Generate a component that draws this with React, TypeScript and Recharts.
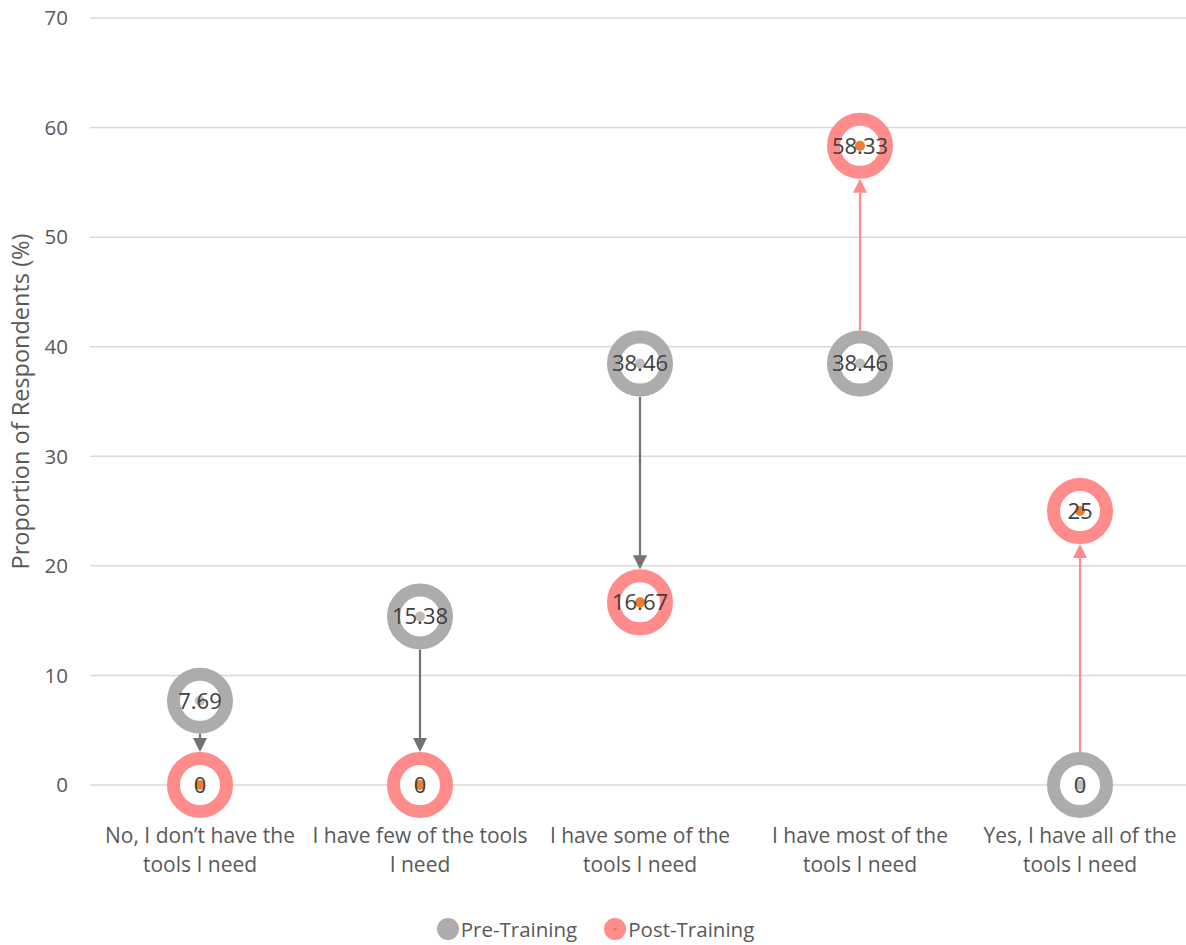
import React from "react";
import {Bar, CartesianGrid, ComposedChart, LabelList, Legend, Line, XAxis, YAxis} from "recharts";

const categoryLines = [
    ["No, I don’t have the", "tools I need"],
    ["I have few of the tools", "I need"],
    ["I have some of the", "tools I need"],
    ["I have most of the", "tools I need"],
    ["Yes, I have all of the", "tools I need"],
];
const preTraining = [7.69, 15.38, 38.46, 38.46, 0];
const postTraining = [0, 0, 16.67, 58.33, 25];
const yTicks = [0, 10, 20, 30, 40, 50, 60, 70];

const data = categoryLines.map((lines, i) => ({
    name: lines.join(" "),
    pre: preTraining[i],
    post: postTraining[i],
}));

const FONT = "'Open Sans', 'Noto Sans', sans-serif";
const TEXT = "#595959";
const GRAY = "#AEABAB";
const PINK = "#FF8B8B";
const ORANGE = "#ED7D31";
const ARROW_GRAY = "#767171";
const RING_R = 33;

const ring = (stroke: string, inner: string) => (props: any) => {
    const {cx, cy, index} = props;
    if (cx == null || cy == null) return <g key={index}/>;
    return (
        <g key={index}>
            <circle cx={cx} cy={cy} r={26.5} fill="#fff" stroke={stroke} strokeWidth={13}/>
            <circle cx={cx} cy={cy} r={5} fill={inner}/>
        </g>
    );
};

const ArrowShape = (props: any) => {
    const {x, y, width, height, payload} = props;
    if (x == null || y == null) return <g/>;
    const cx = x + width / 2;
    const top = Math.min(y, y + height);
    const bottom = Math.max(y, y + height);
    const down = payload.post < payload.pre;
    const color = down ? ARROW_GRAY : PINK;
    const start = down ? top + RING_R : bottom - RING_R;
    const end = down ? bottom - RING_R : top + RING_R;
    const dir = down ? 1 : -1;
    const head = 14;
    const lineEnd = end - dir * head;
    return (
        <g>
            <line x1={cx} y1={start} x2={cx} y2={lineEnd} stroke={color} strokeWidth={2.2}/>
            <polygon points={`${cx - 7},${lineEnd} ${cx + 7},${lineEnd} ${cx},${end}`} fill={color}/>
        </g>
    );
};

const CategoryTick = (props: any) => {
    const {x, y, index} = props;
    const lines = categoryLines[index] || [];
    return (
        <text x={x} y={y} textAnchor="middle" fill={TEXT} fontSize={21} fontFamily={FONT}>
            {lines.map((l, i) => (
                <tspan key={i} x={x} dy={i === 0 ? 50 : 29}>{l}</tspan>
            ))}
        </text>
    );
};

const renderLegend = () => (
    <div style={{display: "flex", justifyContent: "center", alignItems: "center", gap: 26, fontFamily: FONT, fontSize: 20.5, color: TEXT}}>
        <span style={{display: "flex", alignItems: "center"}}>
            <svg width={24} height={24}><circle cx={12} cy={12} r={11} fill={GRAY}/></svg>
            <span style={{marginLeft: 1}}>Pre-Training</span>
        </span>
        <span style={{display: "flex", alignItems: "center"}}>
            <svg width={24} height={24}><circle cx={12} cy={12} r={11} fill={PINK}/><circle cx={12} cy={12} r={1.5} fill={ORANGE}/></svg>
            <span style={{marginLeft: 1}}>Post-Training</span>
        </span>
    </div>
);

const yLabel = (props: any) => {
    const vb = props.viewBox || {};
    const cx = 20;
    const cy = vb.y + vb.height / 2;
    return (
        <text x={cx} y={cy} transform={`rotate(-90 ${cx} ${cy})`} textAnchor="middle" dominantBaseline="central"
              fill={TEXT} fontSize={23.5} fontFamily={FONT}>
            Proportion of Respondents (%)
        </text>
    );
};

export default function App() {
    return (
        <div style={{position: "absolute", left: 0, top: 0, background: "#fff", overflow: "hidden"}}>
            <ComposedChart width={1186} height={945} data={data} margin={{top: 18, right: -4, bottom: 0, left: 0}}>
                <CartesianGrid vertical={false} stroke="#D9D9D9" strokeWidth={1.5}/>
                <XAxis dataKey="name" axisLine={false} tickLine={false} height={130} interval={0} tick={<CategoryTick/>}/>
                <YAxis domain={[0, 70]} ticks={yTicks} width={90} axisLine={false} tickLine={false} tickSize={0}
                       tickMargin={22} tick={{fill: TEXT, fontSize: 20.5, fontFamily: FONT}} label={yLabel}/>
                <Legend verticalAlign="bottom" height={30} content={renderLegend}/>
                <Bar dataKey={(d: any) => [Math.min(d.pre, d.post), Math.max(d.pre, d.post)]} barSize={4}
                     shape={<ArrowShape/>} isAnimationActive={false}/>
                <Line dataKey="pre" stroke="none" dot={ring(GRAY, "#BFBDBC")} activeDot={false} isAnimationActive={false}>
                    <LabelList dataKey="pre" position="center" fill="#404040" fontSize={22} fontFamily={FONT}/>
                </Line>
                <Line dataKey="post" stroke="none" dot={ring(PINK, ORANGE)} activeDot={false} isAnimationActive={false}>
                    <LabelList dataKey="post" position="center" fill="#404040" fontSize={22} fontFamily={FONT}/>
                </Line>
            </ComposedChart>
        </div>
    );
}
